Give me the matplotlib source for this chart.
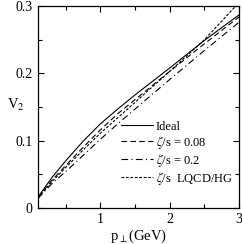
import matplotlib
matplotlib.use("Agg")
import matplotlib.pyplot as plt
from matplotlib.ticker import MultipleLocator

plt.rcParams['font.family'] = ['Liberation Serif', 'DejaVu Serif']
plt.rcParams['mathtext.fontset'] = 'stix'

# v2(pT)
pt = [0.1, 0.3, 0.5, 0.75, 1.0, 1.25, 1.5, 2.0, 2.5, 3.0]
v2_ideal = [0.016, 0.045, 0.070, 0.099, 0.125, 0.147, 0.168, 0.208, 0.249, 0.287]
v2_008 = [0.015, 0.041, 0.063, 0.090, 0.116, 0.140, 0.161, 0.203, 0.244, 0.284]
v2_02 = [0.014, 0.036, 0.054, 0.078, 0.102, 0.125, 0.147, 0.191, 0.234, 0.276]
pt_lqcd = [0.1, 0.3, 0.5, 0.75, 1.0, 1.25, 1.5, 2.0, 2.5, 2.95]
v2_lqcd = [0.015, 0.039, 0.060, 0.086, 0.111, 0.134, 0.157, 0.203, 0.250, 0.300]

labels = ['Ideal', r'$\zeta$/s = 0.08', r'$\zeta$/s = 0.2', r'$\zeta$/s  LQCD/HG']

fig = plt.figure(figsize=(2.42, 2.44), dpi=100)
ax = fig.add_axes([0.157, 0.148, 0.831, 0.827])

ax.plot(pt, v2_ideal, color='k', lw=0.8, ls='-', label=labels[0])
ax.plot(pt, v2_008, color='k', lw=0.8, ls=(0, (5, 3)), label=labels[1])
ax.plot(pt, v2_02, color='k', lw=0.8, ls=(0, (6, 3, 1, 3)), label=labels[2])
ax.plot(pt_lqcd, v2_lqcd, color='k', lw=0.8, ls=(0, (2.5, 1.5)), label=labels[3])

ax.set_xlim(0.1, 3)
ax.set_ylim(0, 0.3)
ax.xaxis.set_minor_locator(MultipleLocator(0.5))
ax.yaxis.set_minor_locator(MultipleLocator(0.05))
ax.set_xticks([1, 2, 3])
ax.set_xticklabels(['1', '2', '3'])
ax.set_yticks([0, 0.1, 0.2, 0.3])
ax.set_yticklabels(['0', '0.1', '0.2', '0.3'])
ax.tick_params(which='both', direction='in', top=True, right=True, labelsize=10, width=0.8)
ax.tick_params(which='major', length=4, pad=4)
ax.tick_params(which='minor', length=3)
for s in ax.spines.values():
    s.set_linewidth(0.9)

ax.set_xlabel(r'p$_{\perp}$(GeV)', fontsize=10.5, labelpad=1)
ax.set_ylabel(r'V$_2$', fontsize=10.5, rotation=0)
ax.yaxis.set_label_coords(-0.11, 0.47)

ax.legend(loc='lower right', frameon=False, fontsize=9, handlelength=2.6,
          handletextpad=0.2, labelspacing=0.08, borderaxespad=0.0,
          bbox_to_anchor=(0.995, 0.08))

plt.savefig('out.png', dpi=100)
